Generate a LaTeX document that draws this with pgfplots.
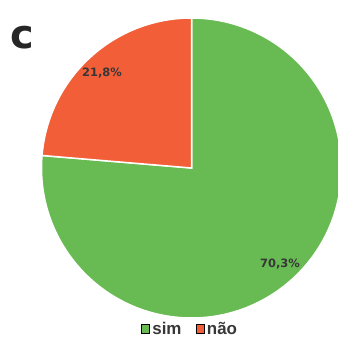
\documentclass[border=0pt]{standalone}
\usepackage{pgfplots}
\pgfplotsset{compat=1.18}
\usepackage{fontspec}
\setmainfont{Liberation Sans}
\newfontfamily\djb{DejaVu Sans}[BoldFont={DejaVu Sans Bold}]
\definecolor{pgreen}{RGB}{104,186,82}
\definecolor{pred}{RGB}{241,94,56}
\definecolor{ptext}{RGB}{55,55,55}
% data (percent)
\def\vnao{21.8}
\def\vsim{70.3}
\pgfmathsetmacro{\redend}{90+360*\vnao/(\vnao+\vsim)}
\begin{document}
\begin{tikzpicture}
\begin{axis}[hide axis, scale only axis, width=338bp, height=345bp,
  xmin=0, xmax=338, ymin=0, ymax=345, at={(0,0)}, anchor=south west,
  legend columns=2,
  legend style={at={(axis cs:190,16)}, anchor=center, draw=none, fill=none,
    font=\bfseries\fontsize{17}{19}\selectfont, text=ptext,
    inner sep=0pt,
    /tikz/every odd column/.append style={column sep=1bp},
    /tikz/every even column/.append style={column sep=12bp}},
  legend image code/.code={\fill[#1] (0bp,-4.5bp) rectangle (8bp,4.5bp);},
]
\addlegendimage{fill=pgreen}
\addlegendentry{sim}
\addlegendimage{fill=pred}
\addlegendentry{não}
\fill[pgreen, draw=white, line width=1.5bp] (axis cs:191.5,177) -- ++(\redend:150bp) arc[start angle=\redend, end angle=450, radius=150bp] -- cycle;
\fill[pred, draw=white, line width=1.5bp] (axis cs:191.5,177) -- ++(90:150bp) arc[start angle=90, end angle=\redend, radius=150bp] -- cycle;
\node[font=\djb\bfseries\fontsize{11.5}{13}\selectfont, text=ptext] at (axis cs:102,272) {21,8\%};
\node[font=\djb\bfseries\fontsize{11.5}{13}\selectfont, text=ptext] at (axis cs:280,81) {70,3\%};
\node[font=\djb\bfseries\fontsize{40}{42}\selectfont, text=black!85] at (axis cs:22,307) {c};
\end{axis}
\pgfresetboundingbox
\path[use as bounding box] (0,0) rectangle (338bp,345bp);
\end{tikzpicture}
\end{document}
